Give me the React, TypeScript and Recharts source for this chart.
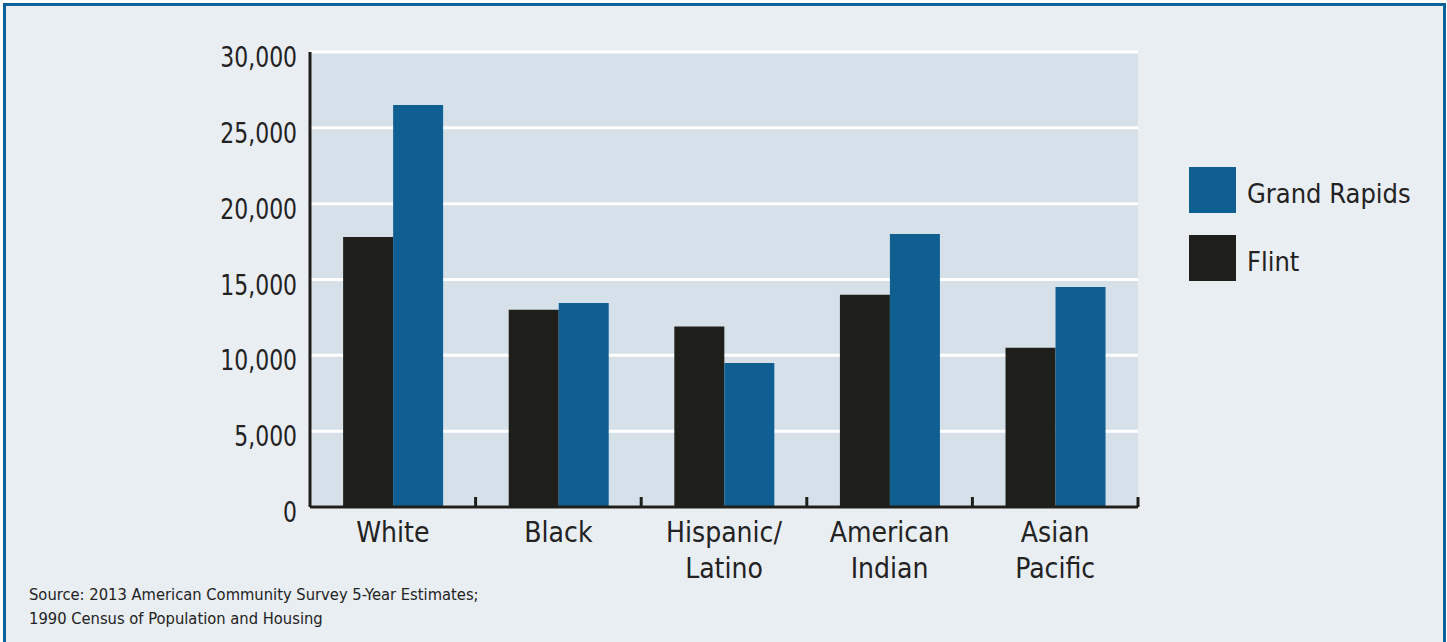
import { Bar, BarChart, CartesianGrid, Legend, XAxis, YAxis } from 'recharts'

const categories = ['White', 'Black', 'Hispanic/\nLatino', 'American\nIndian', 'Asian\nPacific']
const flint = [17800, 13000, 11900, 14000, 10500]
const grandRapids = [26500, 13450, 9500, 18000, 14500]
const yTicks = [0, 5000, 10000, 15000, 20000, 25000, 30000]
const sourceLines = [
  'Source: 2013 American Community Survey 5-Year Estimates;',
  '1990 Census of Population and Housing',
]

const FONT = "'Liberation Sans Narrow', 'DejaVu Sans Condensed', Roboto, sans-serif"
const TEXT = '#222'
const FLINT = '#1e1f1b'
const GR = '#0f5f93'

const data = categories.map((category, i) => ({
  category,
  flint: flint[i],
  grandRapids: grandRapids[i],
}))

// label plus the small upward tick at the right edge of each band
function CategoryTick({ x, y, payload }: any) {
  const lines = String(payload.value).split('\n')
  const edge = payload.offset ? x + payload.offset : null
  return (
    <g>
      {edge != null && (
        <line x1={edge} x2={edge} y1={y} y2={y - 10} stroke={FLINT} strokeWidth={3} />
      )}
      <text x={x} y={y} textAnchor="middle" fill={TEXT} fontSize={28} fontFamily={FONT}>
        {lines.map((l, i) => (
          <tspan key={i} x={x} dy={i === 0 ? 35 : 36}>
            {l}
          </tspan>
        ))}
      </text>
    </g>
  )
}

// y labels are narrow in the original, squeeze them a little
function ValueTick({ x, y, payload }: any) {
  return (
    <text
      transform={`translate(${x},${y + 15}) scale(0.87,1)`}
      textAnchor="end"
      fill={TEXT}
      fontSize={28}
      fontFamily={FONT}
    >
      {Number(payload.value).toLocaleString('en-US')}
    </text>
  )
}

function LegendBox({ payload }: any) {
  const items = [...(payload || [])].reverse()
  return (
    <div style={{ fontFamily: FONT }}>
      {items.map((p: any) => (
        <div key={p.value} style={{ display: 'flex', alignItems: 'center', height: 46, marginBottom: 22 }}>
          <span style={{ width: 47, height: 46, background: p.color, display: 'inline-block' }} />
          <span style={{ marginLeft: 11, paddingTop: 6, fontSize: 27, color: TEXT }}>{p.value}</span>
        </div>
      ))}
    </div>
  )
}

export default function App() {
  return (
    <div style={{ position: 'fixed', left: 0, top: 0, width: 1447, height: 642, background: '#ffffff', overflow: 'hidden' }}>
      <div
        style={{
          position: 'absolute',
          left: 3,
          top: 3,
          width: 1437,
          height: 660,
          background: '#e9eef3',
          border: '3px solid #10609a',
        }}
      />
      <div style={{ position: 'absolute', left: 0, top: 0 }}>
        <BarChart
          width={1447}
          height={642}
          data={data}
          margin={{ top: 52, right: 309, bottom: 35, left: 0 }}
          barCategoryGap="20%"
          barGap={0}
        >
          <CartesianGrid
            vertical={false}
            stroke="#ffffff"
            strokeWidth={3}
            fill="#d5e0e9"
            horizontalValues={yTicks}
          />
          <XAxis
            dataKey="category"
            height={100}
            axisLine={{ stroke: FLINT, strokeWidth: 3 }}
            tickLine={false}
            tickSize={0}
            tickMargin={0}
            interval={0}
            tick={<CategoryTick />}
          />
          <YAxis
            width={310}
            domain={[0, 30000]}
            ticks={yTicks}
            interval={0}
            tickLine={false}
            tickSize={0}
            tickMargin={13}
            axisLine={{ stroke: FLINT, strokeWidth: 3 }}
            tick={<ValueTick />}
          />
          <Legend
            layout="vertical"
            align="center"
            verticalAlign="middle"
            content={<LegendBox />}
            wrapperStyle={{ left: 1189, top: 167, width: 250 }}
          />
          <Bar dataKey="flint" name="Flint" fill={FLINT} isAnimationActive={false} />
          <Bar dataKey="grandRapids" name="Grand Rapids" fill={GR} isAnimationActive={false} />
        </BarChart>
      </div>
      <div
        style={{
          position: 'absolute',
          left: 29,
          top: 583,
          fontFamily: FONT,
          fontSize: 16.4,
          lineHeight: '24px',
          color: TEXT,
        }}
      >
        {sourceLines.map((l) => (
          <div key={l}>{l}</div>
        ))}
      </div>
    </div>
  )
}
